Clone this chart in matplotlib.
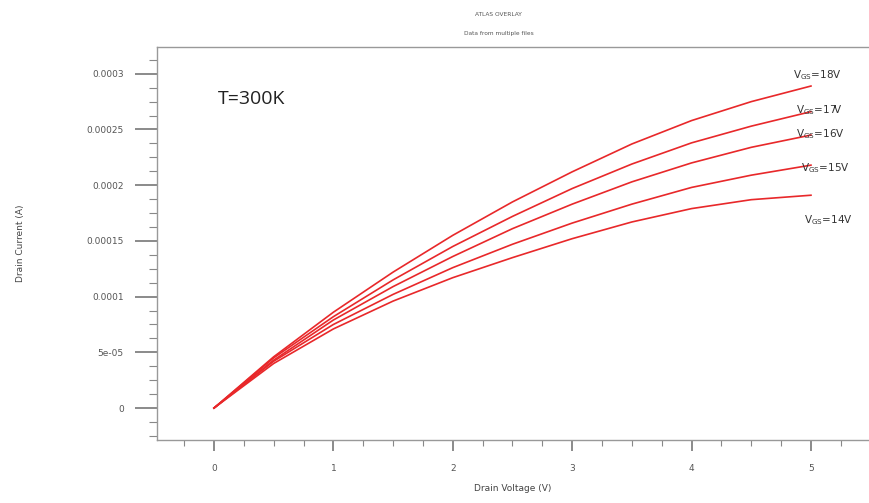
import matplotlib
matplotlib.use("Agg")
import matplotlib.pyplot as plt
from matplotlib.ticker import MultipleLocator, FixedLocator

# drain voltage (V)
vd = [0, 0.5, 1, 1.5, 2, 2.5, 3, 3.5, 4, 4.5, 5]

# drain current (A), one list per gate voltage
id_18 = [0, 4.6e-5, 8.6e-5, 1.22e-4, 1.55e-4, 1.85e-4, 2.12e-4, 2.37e-4, 2.58e-4, 2.75e-4, 2.89e-4]
id_17 = [0, 4.5e-5, 8.2e-5, 1.15e-4, 1.45e-4, 1.72e-4, 1.97e-4, 2.19e-4, 2.38e-4, 2.53e-4, 2.66e-4]
id_16 = [0, 4.3e-5, 7.9e-5, 1.09e-4, 1.36e-4, 1.61e-4, 1.83e-4, 2.03e-4, 2.20e-4, 2.34e-4, 2.45e-4]
id_15 = [0, 4.2e-5, 7.5e-5, 1.02e-4, 1.26e-4, 1.47e-4, 1.66e-4, 1.83e-4, 1.98e-4, 2.09e-4, 2.18e-4]
id_14 = [0, 4.0e-5, 7.1e-5, 9.6e-5, 1.17e-4, 1.35e-4, 1.52e-4, 1.67e-4, 1.79e-4, 1.87e-4, 1.91e-4]

curves = [id_18, id_17, id_16, id_15, id_14]
vgs = ["18", "17", "16", "15", "14"]

yticks = [0, 5e-5, 1e-4, 1.5e-4, 2e-4, 2.5e-4, 3e-4]
ytick_labels = ["0", "5e-05", "0.0001", "0.00015", "0.0002", "0.00025", "0.0003"]
xticks = [0, 1, 2, 3, 4, 5]

fig = plt.figure(figsize=(8.69, 5.03), dpi=100)
ax = fig.add_axes([0.1807, 0.1252, 0.8193, 0.7813])

red = "#e8282a"
for c in curves:
    ax.plot(vd, c, color=red, lw=1.2)

# labels next to the line ends (pixel offsets)
label_offsets = [(-13, 8), (-11, 1), (-11, 1), (-7, -2), (-5, -18)]
for c, v, (dx, dy) in zip(curves, vgs, label_offsets):
    ax.annotate(r"$\mathregular{V_{GS}}$=" + v + "V", xy=(vd[-1], c[-1]),
                xytext=(dx, dy), textcoords="offset points",
                fontsize=7.5, color="#333333", va="center", ha="left")

ax.text(0.086, 0.855, "T=300K", transform=ax.transAxes, fontsize=14,
        color="#222222", family="Open Sans")

ax.set_xlim(-0.477, 5.486)
ax.set_ylim(-2.87e-5, 3.24e-4)

ax.yaxis.set_major_locator(FixedLocator(yticks))
ax.set_yticklabels(ytick_labels)
ax.yaxis.set_minor_locator(MultipleLocator(1.25e-5))
ax.xaxis.set_major_locator(FixedLocator(xticks))
ax.xaxis.set_minor_locator(MultipleLocator(0.25))

grey = "#888888"
ax.tick_params(axis="y", which="major", length=16, width=1.2, color="#777777",
               labelsize=6.5, labelcolor="#555555", pad=8)
ax.tick_params(axis="y", which="minor", length=6, width=0.8, color=grey)
ax.tick_params(axis="x", which="major", length=8, width=1.2, color="#777777",
               labelsize=6.5, labelcolor="#555555", pad=9)
ax.tick_params(axis="x", which="minor", length=4, width=0.8, color=grey)

for s in ["left", "bottom", "top"]:
    ax.spines[s].set_color("#999999")
    ax.spines[s].set_linewidth(1.0)
ax.spines["right"].set_visible(False)

ax.set_xlabel("Drain Voltage (V)", fontsize=6.5, color="#444444", labelpad=8)
ax.set_ylabel("Drain Current (A)", fontsize=6.5, color="#444444", labelpad=44)

fig.text(0.574, 0.972, "ATLAS OVERLAY", fontsize=4.2, color="#555555", ha="center", va="center")
fig.text(0.574, 0.934, "Data from multiple files", fontsize=4.2, color="#555555", ha="center", va="center")

fig.savefig("out.png", dpi=100)
